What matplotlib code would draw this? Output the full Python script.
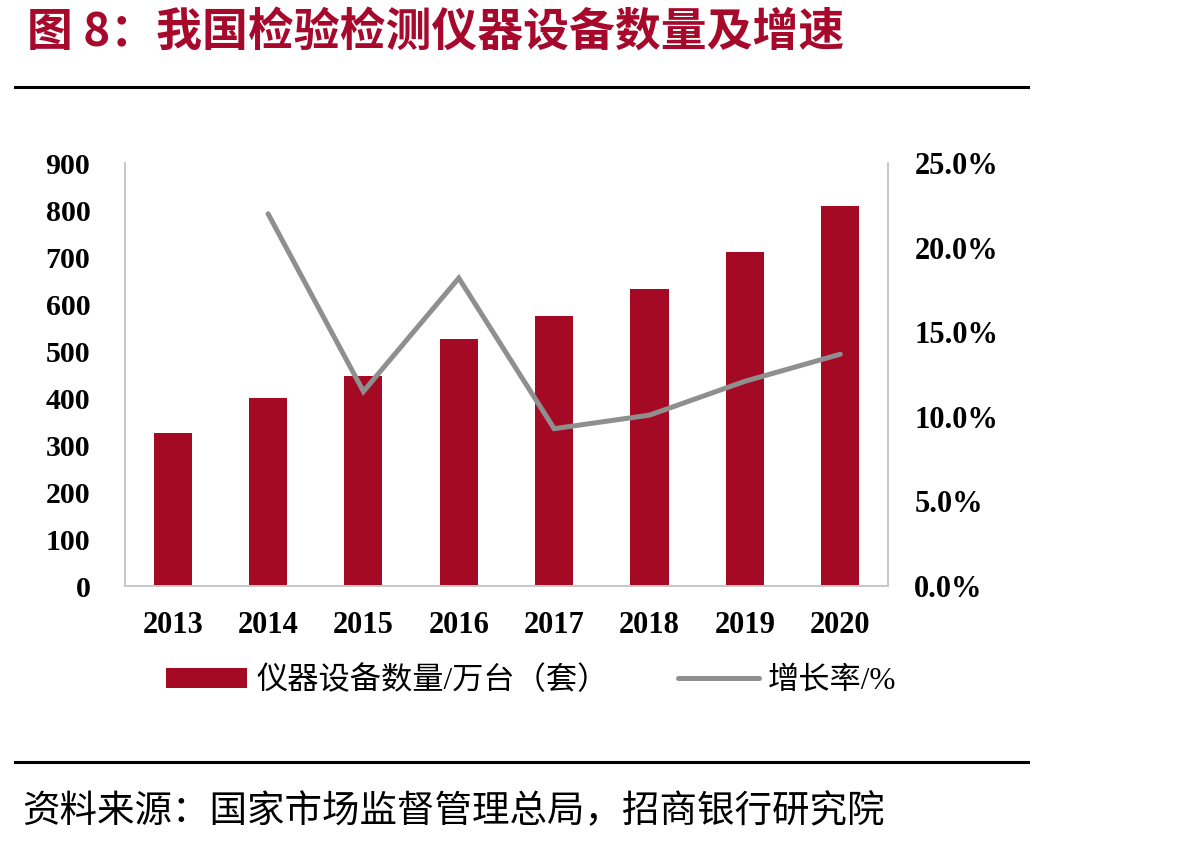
import matplotlib
matplotlib.use("Agg")
import matplotlib.pyplot as plt
from matplotlib.lines import Line2D
from matplotlib.ticker import FuncFormatter
import numpy as np

# data
years = ["2013", "2014", "2015", "2016", "2017", "2018", "2019", "2020"]
devices = [326, 399, 446, 526, 575, 633, 711, 808]          # 万台（套）
growth = [np.nan, 0.220, 0.115, 0.182, 0.093, 0.101, 0.121, 0.137]

left_ticks = [0, 100, 200, 300, 400, 500, 600, 700, 800, 900]
right_ticks = [0.0, 0.05, 0.10, 0.15, 0.20, 0.25]

RED = "#A50A25"
GRAY = "#8F8F8F"
SPINE = "#C8C8C8"
SERIF = ["Liberation Serif", "Noto Sans CJK SC"]
CJK = ["Noto Sans CJK SC", "DejaVu Sans"]

plt.rcParams["font.family"] = SERIF


def main():
    fig = plt.figure(figsize=(11.78, 8.46), dpi=100)
    ax = fig.add_axes([0.1061, 0.3073, 0.6477, 0.5])
    ax2 = ax.twinx()

    x = np.arange(len(years))
    ax.bar(x, devices, width=0.4, color=RED, zorder=2, label="仪器设备数量/万台（套）")
    ax2.plot(x, growth, color=GRAY, lw=3.6, solid_capstyle="round",
             solid_joinstyle="miter", label="增长率/%")

    ax.set_xlim(-0.5, len(years) - 0.5)
    ax.set_ylim(0, 900)
    ax.set_yticks(left_ticks)
    ax.set_xticks(x)
    ax.set_xticklabels(years)
    ax2.set_ylim(0, 0.25)
    ax2.set_yticks(right_ticks)
    ax2.yaxis.set_major_formatter(FuncFormatter(lambda v, p: f"{v*100:.1f}%"))

    for a in (ax, ax2):
        a.spines["top"].set_visible(False)
        for s in ("left", "right", "bottom"):
            a.spines[s].set_color(SPINE)
            a.spines[s].set_linewidth(1.3)
    ax.tick_params(axis="y", length=0, pad=25, labelsize=21.5)
    ax.tick_params(axis="x", length=0, pad=18, labelsize=22)
    ax2.tick_params(axis="y", length=0, pad=19, labelsize=22)
    for lbl in ax.get_xticklabels() + ax.get_yticklabels() + ax2.get_yticklabels():
        lbl.set_fontweight("bold")

    # legend below the plot
    h1, l1 = ax.get_legend_handles_labels()
    h2, l2 = ax2.get_legend_handles_labels()
    fig.legend(h1 + h2, l1 + l2, loc="center", bbox_to_anchor=(0.451, 0.195),
               ncol=2, frameon=False, prop={"family": SERIF, "size": 22.5},
               handlelength=2.6, handleheight=0.6, handletextpad=0.3,
               columnspacing=2.2)

    # title, rules and source
    fig.text(0.023, 0.961, "图 8：我国检验检测仪器设备数量及增速", family=CJK,
             fontsize=33, fontweight="bold", color="#A6092B", va="center", ha="left")
    for yy in (0.897, 0.0993):
        fig.add_artist(Line2D([0.0127, 0.8727], [yy, yy], transform=fig.transFigure,
                              color="black", lw=2.2))
    fig.text(0.019, 0.041, "资料来源：国家市场监督管理总局，招商银行研究院", family=CJK,
             fontsize=27, color="black", va="center", ha="left")

    fig.savefig("out.png", dpi=100)


if __name__ == "__main__":
    main()
